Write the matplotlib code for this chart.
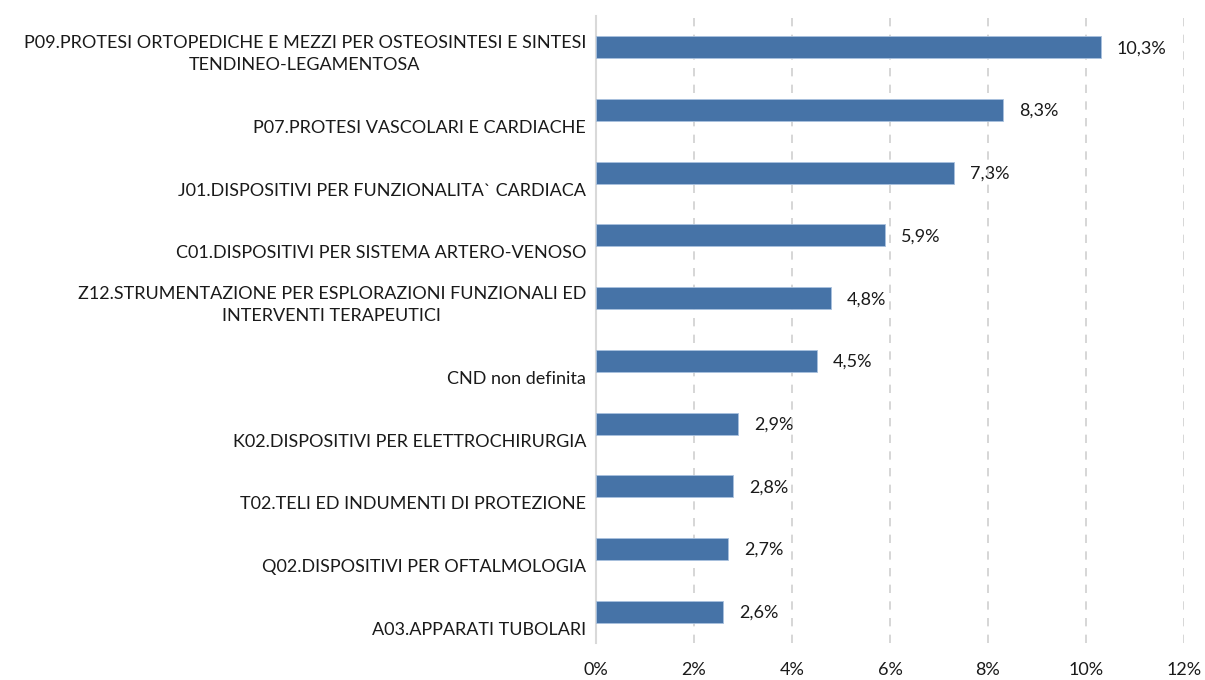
import matplotlib
matplotlib.use('Agg')
import matplotlib.pyplot as plt
from matplotlib.ticker import FuncFormatter

plt.rcParams['font.family'] = ['Lato', 'DejaVu Sans']

categorie = [
    'P09.PROTESI ORTOPEDICHE E MEZZI PER OSTEOSINTESI E SINTESI\nTENDINEO-LEGAMENTOSA',
    'P07.PROTESI VASCOLARI E CARDIACHE',
    'J01.DISPOSITIVI PER FUNZIONALITA` CARDIACA',
    'C01.DISPOSITIVI PER SISTEMA ARTERO-VENOSO',
    'Z12.STRUMENTAZIONE PER ESPLORAZIONI FUNZIONALI ED\nINTERVENTI TERAPEUTICI',
    'CND non definita',
    'K02.DISPOSITIVI PER ELETTROCHIRURGIA',
    'T02.TELI ED INDUMENTI DI PROTEZIONE',
    'Q02.DISPOSITIVI PER OFTALMOLOGIA',
    'A03.APPARATI TUBOLARI',
]
quote = [10.3, 8.3, 7.3, 5.9, 4.8, 4.5, 2.9, 2.8, 2.7, 2.6]
xticks = [0, 2, 4, 6, 8, 10, 12]

fig = plt.figure(figsize=(12.05, 6.8), dpi=100)
ax = fig.add_axes([596 / 1205, 1 - 643 / 680, 588 / 1205, 627 / 680])

pos = list(range(len(quote)))
ax.barh(pos, quote, height=0.35, color='#4673a7', edgecolor='#a9c1de',
        linewidth=0.6, zorder=3)
ax.set_ylim(len(quote) - 0.5, -0.5)
ax.set_xlim(0, 12)

# etichette valore a destra delle barre
for y, v in zip(pos, quote):
    ax.annotate(f'{v:.1f}%'.replace('.', ','), xy=(v, y), xytext=(16, -1),
                textcoords='offset pixels', ha='left', va='center',
                fontsize=13, color='#1a1a1a')

# etichette categoria spostate verso il basso rispetto alla barra
ax.set_yticks([])
for y, lab in zip(pos, categorie):
    ax.annotate(lab, xy=(0, y), xycoords=('axes fraction', 'data'),
                xytext=(-10, -26), textcoords='offset pixels',
                ha='right', va='bottom', multialignment='center',
                fontsize=13, color='#1a1a1a', linespacing=1.5)

ax.set_xticks(xticks)
ax.xaxis.set_major_formatter(FuncFormatter(lambda x, p: f'{x:.0f}%'))
ax.tick_params(axis='x', length=0, pad=14, labelsize=13, labelcolor='#1a1a1a')
ax.grid(axis='x', color='#d0d0d0', linestyle=(0, (5, 5)), linewidth=1.2, zorder=0)
for s in ['top', 'right', 'bottom']:
    ax.spines[s].set_visible(False)
ax.spines['left'].set_color('#d9d9d9')
ax.spines['left'].set_linewidth(1.5)

fig.savefig('out.png', dpi=100)
